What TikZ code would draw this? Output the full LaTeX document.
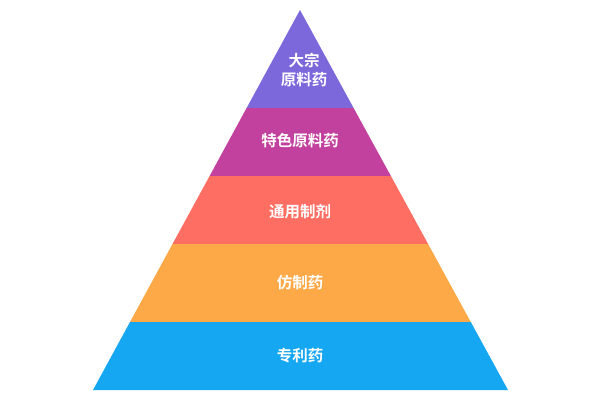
\documentclass[tikz,border=0pt]{standalone}
\usepackage{fontspec}
\newfontfamily\cjk{Noto Sans CJK SC}[BoldFont={Noto Sans CJK SC Bold}]
\definecolor{cA}{HTML}{7C67DB}
\definecolor{cB}{HTML}{C2419E}
\definecolor{cC}{HTML}{FF6E62}
\definecolor{cD}{HTML}{FDA948}
\definecolor{cE}{HTML}{16A7F2}
\tikzset{lbl/.style={text=white,font=\cjk\bfseries\fontsize{15.5}{18.5}\selectfont,align=center}}
\begin{document}
\begin{tikzpicture}[x=1pt,y=-1pt]
\useasboundingbox (0,0) rectangle (600,400);
\fill[cA] (300,10) -- (353.6,108) -- (246.6,108) -- cycle;
\fill[cB] (246.6,108) -- (353.6,108) -- (390.9,176) -- (209.6,176) -- cycle;
\fill[cC] (209.6,176) -- (390.9,176) -- (428.1,244) -- (172.5,244) -- cycle;
\fill[cD] (172.5,244) -- (428.1,244) -- (470.8,322) -- (130,322) -- cycle;
\fill[cE] (130,322) -- (470.8,322) -- (508,390) -- (93,390) -- cycle;
\node[lbl] (t1) at (304,70) {大宗\\原料药};
\node[lbl] (t2) at (300,141) {特色原料药};
\node[lbl] (t3) at (300,212) {通用制剂};
\node[lbl] (t4) at (300,283) {仿制药};
\node[lbl] (t5) at (300,356) {专利药};
\end{tikzpicture}
\end{document}
